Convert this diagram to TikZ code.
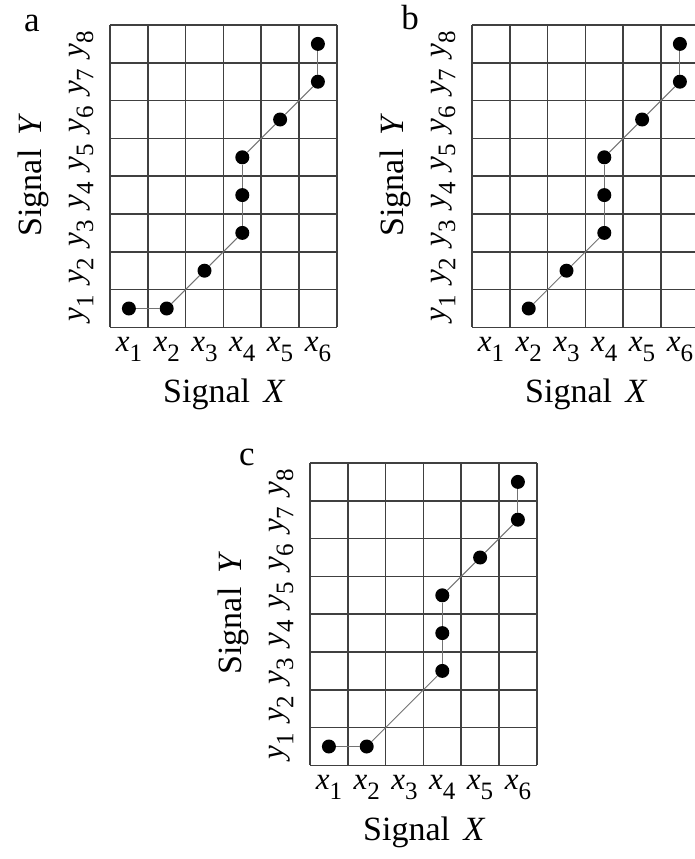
\documentclass[tikz,border=0pt]{standalone}
\usepackage{fontspec}
\setmainfont{Liberation Serif}
\newcommand{\lbl}[2]{\textit{#1}\raisebox{-0.3em}{\fontsize{25}{25}\selectfont #2}}
\tikzset{
  gridline/.style={draw=black!75, line width=1.7pt},
  dot/.style={circle, fill=black, inner sep=0pt, minimum size=14pt},
  link/.style={draw=black!55, line width=1pt},
  axlab/.style={font=\fontsize{34}{34}\selectfont, inner sep=0pt},
  ticklab/.style={font=\fontsize{31}{31}\selectfont, inner sep=0pt},
  panlab/.style={font=\fontsize{35}{35}\selectfont, inner sep=0pt, anchor=base},
}
\def\cs{37.8}
\newcommand{\panelgrid}{%
  \foreach \i in {0,...,6} \draw[gridline] ({\i*\cs},0) -- ({\i*\cs},{8*\cs});
  \foreach \j in {0,...,8} \draw[gridline] (0,{\j*\cs}) -- ({6*\cs},{\j*\cs});
  \foreach \i in {1,...,6} \node[ticklab] at ({(\i-0.5)*\cs},{8*\cs+22}) {\lbl{x}{\i}};
  \foreach \j in {1,...,8} \node[ticklab, rotate=90] at (-28.5,{(8.5-\j)*\cs}) {\lbl{y}{\j}};
  \node[axlab, rotate=90] at (-77,{4*\cs-1}) {Signal\hspace{0.4em}\textit{Y}};
  \node[axlab] at ({3*\cs+1},{8*\cs+67}) {Signal\hspace{0.4em}\textit{X}};
}
\begin{document}
\begin{tikzpicture}[x=1pt,y=-1pt]
\useasboundingbox (0,0) rectangle (695,859);
\clip (0,0) rectangle (695,859);
% panel a
\begin{scope}[shift={(110,25)}]
  \panelgrid
  \node[panlab] (la) at (-78,7) {a};
  \foreach \i/\j [count=\k] in {1/1,2/1,3/2,4/3,4/4,4/5,5/6,6/7,6/8}
    \node[dot] (a\k) at ({(\i-0.5)*\cs},{(8.5-\j)*\cs}) {};
  \foreach \k [remember=\k as \prev (initially 1)] in {2,...,9}
    \draw[link] (a\prev) -- (a\k);
\end{scope}
% panel b
\begin{scope}[shift={(472,25)}]
  \panelgrid
  \node[panlab] (lb) at (-62,5) {b};
  \foreach \i/\j [count=\k] in {2/1,3/2,4/3,4/4,4/5,5/6,6/7,6/8}
    \node[dot] (b\k) at ({(\i-0.5)*\cs},{(8.5-\j)*\cs}) {};
  \foreach \k [remember=\k as \prev (initially 1)] in {2,...,8}
    \draw[link] (b\prev) -- (b\k);
\end{scope}
% panel c
\begin{scope}[shift={(310,463)}]
  \panelgrid
  \node[panlab] (lc) at (-63,2) {c};
  \foreach \i/\j [count=\k] in {1/1,2/1,4/3,4/4,4/5,5/6,6/7,6/8}
    \node[dot] (c\k) at ({(\i-0.5)*\cs},{(8.5-\j)*\cs}) {};
  \foreach \k [remember=\k as \prev (initially 1)] in {2,...,8}
    \draw[link] (c\prev) -- (c\k);
\end{scope}
\end{tikzpicture}
\end{document}
